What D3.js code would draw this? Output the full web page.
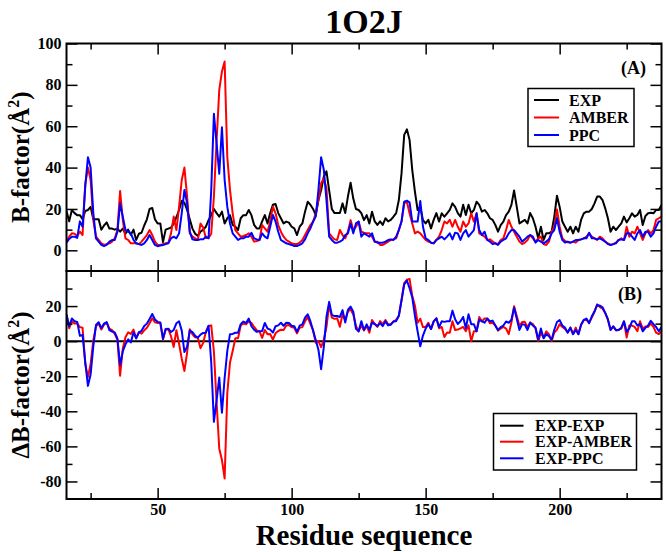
<!DOCTYPE html>
<html><head><meta charset="utf-8">
<script src="https://cdn.jsdelivr.net/npm/d3@7/dist/d3.min.js"></script>
<style>
body{margin:0;background:#fff}
svg{display:block}
text{font-family:"Liberation Serif","Times New Roman",serif;font-weight:bold;fill:#000}
</style>
</head><body><svg id="chart" width="666" height="552"></svg>
<script>
// ---------------- data ----------------
const chartTitle = "1O2J";
const firstResidue = 16;
const expB = [
 19,14,19.5,18,17,17,15,19,19.5,21,
 15,15,15,10,12,13.5,10.5,10.5,10,10.5,
 9,10.5,8,10,7.5,10,5,8,8.5,12,
 15,20,20.5,15,13,13,4,10,10.5,11,
 13,16,19.5,24,23,19.5,15,10.5,8,7,
 9,10,11.4,14.6,17,20,18,16.3,18.7,13,
 15.5,17,12.3,11.4,9.8,15.5,17,17,19.5,17,
 12.3,10.6,10.6,14,17,13,18,22,22.4,18,
 15.5,13,13.9,13.4,11.4,10.6,7.4,11.4,13,18.7,
 23.5,22,20,17,24.3,29,35.6,38.2,29,20,
 18,18,18,22.7,18,26,32.7,25,20,19.5,
 18,14.6,17,13,18.7,14,12.3,14,12.3,15.5,
 14,14.7,16.3,18,24.3,37.2,55.8,58.5,53.4,38.9,
 28.4,19.5,21,14.6,13,14.7,10.6,14.7,18,13.9,
 17.9,16.3,17.9,19.5,22.7,21,18,16.3,22,17.1,
 22,17.9,19.5,23.5,22,18.7,19.5,17.9,15.5,14.7,
 12.3,9,12.2,13.9,17,18.7,22,28.9,21,13,
 13.9,14.7,13,18,15.5,11.4,5.8,11.4,5,8.2,
 8.2,9,16.3,26.4,21,13.9,11.4,9,11.4,8.2,
 11.4,9,14.7,17.9,18.7,18.7,20,22.7,26,26,
 24.3,20.3,15.5,9,11.4,9.8,11.4,13,16.3,13.5,
 15.5,17.9,16.3,17.1,19.5,12.2,16.6,17.9,18.2,17.9,
 19.5,19.5,21.9
];
const amberB = [
 4.2,6.6,8.2,8,7,9,7.4,32,40,34,
 14.6,6.6,5,3.4,2.6,3,3.4,4.2,5.8,9.8,
 28.7,14.7,5.8,5,3.4,3.4,3.4,3,4.2,5.8,
 7.4,9.8,7.4,4.2,2.6,2.6,3,3.4,3.7,8.2,
 16.3,9.8,21,34,40,26,8.2,6.6,5.8,5,
 13,11,6,6,8,26,53,77.6,86.5,91.3,
 45,29.2,17.9,9.8,8.2,6.6,6.9,7.4,8.2,6.6,
 4.2,4.5,5,12.2,10.6,9,13.9,21.1,17.9,12.2,
 9,6.6,5,4.2,3.4,3,3,3.7,5,7.4,
 9.8,12.2,13.9,17.9,24.3,32.4,34.8,30,8.2,6.6,
 5.3,5,9.8,7.4,5.8,9,14.6,9.8,11.4,13.9,
 9,8.5,8.2,8.2,6.6,4.2,4.2,2.6,2.6,3.4,
 4.2,5,5.3,5.8,9.8,13.9,22.7,23.5,17.9,13,
 8.2,9,8.2,6.6,5,4.2,3.7,3.4,5,6.6,
 9.8,13.9,13,14.7,11.4,14.7,11.4,9,13.9,11.4,
 13,17.9,13.9,17.9,8.2,7.4,6.6,5,5.3,4.2,
 3.4,3,5,5.8,9.8,14.7,11.4,9,6.6,4.2,
 3,3.7,5,7.4,5.8,4.2,5.8,6.6,3,2.6,
 4.2,9,11.4,19.8,11.4,5.8,4.5,3.9,3.7,4.2,
 3.7,5,5.3,5.8,6.6,8.2,6.6,5.8,5,6.6,
 5.8,4.2,3.4,2.6,3,3.7,5,5.8,5,11.4,
 6.6,9,8.2,11.4,8.2,5,8.2,9.8,8.2,9.8,
 14.7,15.5,16.3
];
const ppcB = [
 3.7,5.5,6.6,6.6,6,14,11.4,31,45,40,
 18,5.8,4.2,2.6,2,2.6,4.2,5,5,9,
 22.7,16.3,9.8,9,8.2,5,3.4,3,2.6,3.4,
 5,7.4,5,2.6,2,2.3,2.6,3,3.4,5.8,
 6.6,5.8,8.2,18,29.2,22.7,9,5.3,5,5,
 5.3,5.3,6.6,5.8,29,66,51.7,37,59.5,34,
 21,13,8.2,6.6,5,5.8,5.8,6.6,6.6,8.5,
 5.8,5.3,5,8.2,6.6,5.8,11.4,17.1,13.9,9,
 5,4.2,3.4,3,2.6,2.1,2.1,2.6,3.4,5.3,
 8.2,10.6,13.9,16.3,29.2,45,39,24.3,6.6,5,
 3.7,3.7,4.2,5,7.4,8.2,13,8.2,13,13.9,
 6.6,8.2,7.4,6.6,8.2,4.2,3.7,3.7,3.7,4.2,
 5,5.3,5,6.6,9.8,13.9,23.5,24,23.2,13.9,
 13.9,13.9,23.9,11.4,5.8,5,3.7,3.4,5,5.8,
 6.6,5.3,6.6,8.2,5.3,8.5,8.2,5,8.2,9.8,
 6.6,8.2,9.8,17.9,9.8,7.4,9,5,4.2,3,
 3.4,2.6,4.2,5,5.8,8.2,9.8,9.8,8.2,6.6,
 4.2,5.3,6.6,7.4,6.6,3.7,5,4.2,3.4,4.2,
 5.3,8.2,9.8,15.5,9,5,3.7,4.2,3.7,4.2,
 5,5,5.3,5.8,5.8,8.5,5.8,5.8,5.3,5.8,
 5,4.2,3,2.6,3,3.4,5,5.3,5,8.2,
 8.2,6.6,5,8.2,9.8,6.6,9,9,6.6,8.2,
 11.4,13.9,13.9
];
const topLegend = ["EXP","AMBER","PPC"];
const bottomLegend = ["EXP-EXP","EXP-AMBER","EXP-PPC"];
const seriesColors = ["#000000","#ff0000","#0000ff"];
const xMajorTicks = [50,100,150,200];
const xMinorTicks = [25,75,125,175,225];
const topMajorTicks = [0,20,40,60,80,100];
const topMinorTicks = [10,30,50,70,90];
const bottomMajorTicks = [-80,-60,-40,-20,0,20];
const bottomMinorTicks = [-70,-50,-30,-10,10,30];

// derived series (difference plots in panel B)
const residues = expB.map((_, i) => firstResidue + i);
const diffExp = expB.map(e => e - e);
const diffAmber = expB.map((e, i) => e - amberB[i]);
const diffPpc = expB.map((e, i) => e - ppcB[i]);

// ---------------- layout ----------------
const svg = d3.select("#chart");
const L = 66.5, R = 661.5, T1 = 43.5, B1 = 271, T2 = 271, B2 = 499;

const x = d3.scaleLinear().domain([16, 238]).range([L, R]);
const yTop = d3.scaleLinear().domain([-10, 100]).range([B1, T1]);
const yBot = d3.scaleLinear().domain([-90, 40]).range([B2, T2]);

const defs = svg.append("defs");
defs.append("clipPath").attr("id","clipA").append("rect").attr("x",L).attr("y",T1).attr("width",R-L).attr("height",B1-T1);
defs.append("clipPath").attr("id","clipB").append("rect").attr("x",L).attr("y",T2).attr("width",R-L).attr("height",B2-T2);

function drawLine(yScale, values, color, clip, width) {
  const line = d3.line().x((d, i) => x(residues[i])).y(d => yScale(d));
  svg.append("path").attr("clip-path", `url(#${clip})`)
    .attr("d", line(values)).attr("fill","none").attr("stroke", color)
    .attr("stroke-width", width).attr("stroke-linejoin","round");
}

function styleAxis(g) {
  g.select(".domain").remove();
  g.selectAll(".tick line").attr("stroke","#000").attr("stroke-width",1.5);
  g.selectAll("text").attr("font-family",'"Liberation Serif","Times New Roman",serif')
    .attr("font-weight","bold").attr("font-size",16).attr("fill","#000");
}

function panelAxes(yScale, top, bottom, major, minor, showX) {
  const fmt = d => String(d);
  svg.append("g").attr("transform",`translate(${L},0)`)
    .call(d3.axisLeft(yScale).tickValues(major).tickSize(-11).tickPadding(5).tickFormat(fmt)).call(styleAxis);
  svg.append("g").attr("transform",`translate(${L},0)`)
    .call(d3.axisLeft(yScale).tickValues(minor).tickSize(-6).tickFormat("")).call(styleAxis);
  svg.append("g").attr("transform",`translate(${R},0)`)
    .call(d3.axisRight(yScale).tickValues(major).tickSize(-11).tickFormat("")).call(styleAxis);
  svg.append("g").attr("transform",`translate(${R},0)`)
    .call(d3.axisRight(yScale).tickValues(minor).tickSize(-6).tickFormat("")).call(styleAxis);
  svg.append("g").attr("transform",`translate(0,${top})`)
    .call(d3.axisTop(x).tickValues(xMajorTicks).tickSize(-11).tickFormat("")).call(styleAxis);
  svg.append("g").attr("transform",`translate(0,${top})`)
    .call(d3.axisTop(x).tickValues(xMinorTicks).tickSize(-6).tickFormat("")).call(styleAxis);
  svg.append("g").attr("transform",`translate(0,${bottom})`)
    .call(d3.axisBottom(x).tickValues(xMajorTicks).tickSize(-11).tickPadding(5).tickFormat(showX ? fmt : "")).call(styleAxis);
  svg.append("g").attr("transform",`translate(0,${bottom})`)
    .call(d3.axisBottom(x).tickValues(xMinorTicks).tickSize(-6).tickFormat("")).call(styleAxis);
  svg.append("rect").attr("x",L).attr("y",top).attr("width",R-L).attr("height",bottom-top)
    .attr("fill","none").attr("stroke","#000").attr("stroke-width",2);
}

// panel A lines
drawLine(yTop, expB, seriesColors[0], "clipA", 2);
drawLine(yTop, amberB, seriesColors[1], "clipA", 2);
drawLine(yTop, ppcB, seriesColors[2], "clipA", 2);
// panel B lines
drawLine(yBot, diffExp, seriesColors[0], "clipB", 2);
drawLine(yBot, diffAmber, seriesColors[1], "clipB", 2);
drawLine(yBot, diffPpc, seriesColors[2], "clipB", 2);

panelAxes(yTop, T1, B1, topMajorTicks, topMinorTicks, false);
panelAxes(yBot, T2, B2, bottomMajorTicks, bottomMinorTicks, true);

// title and axis titles
svg.append("text").attr("x",(L+R)/2).attr("y",33).attr("text-anchor","middle")
  .attr("font-size",34).text(chartTitle);
svg.append("text").attr("x",(L+R)/2).attr("y",545).attr("text-anchor","middle")
  .attr("font-size",29).text("Residue sequence");

function yTitle(prefix, cy) {
  const t = svg.append("text").attr("transform",`translate(29,${cy}) rotate(-90)`)
    .attr("text-anchor","middle").attr("font-size",25);
  t.append("tspan").text(prefix + "B-factor(Å");
  t.append("tspan").attr("font-size",16).attr("dy",-10).text("2");
  t.append("tspan").attr("dy",10).text(")");
}
yTitle("", (T1+B1)/2);
yTitle("Δ", (T2+B2)/2);

// panel tags
svg.append("text").attr("x",646).attr("y",74).attr("text-anchor","end").attr("font-size",18).text("(A)");
svg.append("text").attr("x",642).attr("y",300).attr("text-anchor","end").attr("font-size",18).text("(B)");

// legends
function legend(names, bx, by, bw, bh, lx1, lx2, tx, rows) {
  svg.append("rect").attr("x",bx).attr("y",by).attr("width",bw).attr("height",bh)
    .attr("fill","#fff").attr("stroke","#000").attr("stroke-width",1.5);
  names.forEach((n, i) => {
    svg.append("line").attr("x1",lx1).attr("x2",lx2).attr("y1",rows[i]).attr("y2",rows[i])
      .attr("stroke",seriesColors[i]).attr("stroke-width",2);
    svg.append("text").attr("x",tx).attr("y",rows[i]+5.5).attr("font-size",16).text(n);
  });
}
legend(topLegend, 528, 88.5, 106, 58, 534, 559, 569, [100, 117.5, 135]);
legend(bottomLegend, 493.5, 413.5, 143, 56.5, 500, 523.5, 535, [425.7, 441.7, 458.3]);
</script>
</body></html>
